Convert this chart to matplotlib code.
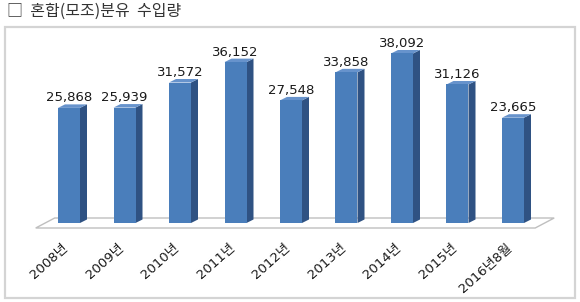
import matplotlib.pyplot as plt
from matplotlib.patches import Polygon, Rectangle

# 혼합(모조)분유 수입량 (톤)
years = ['2008년', '2009년', '2010년', '2011년', '2012년', '2013년', '2014년', '2015년', '2016년8월']
values = [25868, 25939, 31572, 36152, 27548, 33858, 38092, 31126, 23665]

W, H = 580, 302
fig = plt.figure(figsize=(W / 100, H / 100), dpi=100)
fig.patch.set_facecolor('white')

# 픽셀 -> 데이터 환산 (막대 간격 55.5px, 1000톤당 4.45px)
px_x = 55.5
px_y = 4.45 / 1000
x0_px, y0_px = 69, 79  # 첫 막대 중심, 0값 위치 (아래에서)

ax = fig.add_axes([0, 0, 1, 1])
ax.set_xlim(-x0_px / px_x, (W - x0_px) / px_x)
ax.set_ylim(-y0_px / px_y, (H - y0_px) / px_y)
ax.axis('off')

# 깊이(3D) 오프셋
bdx, bdy = 7 / px_x, 3.5 / px_y      # 막대
fdx, fdy = 19 / px_x, 10 / px_y      # 바닥
bw = 22 / px_x

front_c = '#4a7ebb'
side_c = '#2f5283'
top_c = '#6793cc'

# 바닥
n = len(values)
fl, fr = -0.6, n - 1 + 0.4
floor = Polygon([(fl, -fdy / 2), (fr, -fdy / 2), (fr + fdx, fdy / 2), (fl + fdx, fdy / 2)],
                closed=True, facecolor='white', edgecolor='#bfbfbf', lw=1.0, zorder=1)
ax.add_patch(floor)

for i, v in enumerate(values):
    l, r = i - bw / 2, i + bw / 2
    ax.bar(i, v, width=bw, color=front_c, edgecolor='none', zorder=3)
    ax.add_patch(Polygon([(r, 0), (r + bdx, bdy), (r + bdx, v + bdy), (r, v)],
                         closed=True, facecolor=side_c, edgecolor='none', zorder=2))
    ax.add_patch(Polygon([(l, v), (r, v), (r + bdx, v + bdy), (l + bdx, v + bdy)],
                         closed=True, facecolor=top_c, edgecolor='none', zorder=2))
    ax.text(i, v + 6.5 / px_y, f'{v:,}', ha='center', va='baseline',
            fontsize=9.5, family='DejaVu Sans', color='#1a1a1a', zorder=4)
    ax.text(i - 0.05, -23 / px_y, years[i], ha='right', va='center', rotation=42,
            rotation_mode='anchor', fontsize=9.5, family=['DejaVu Sans', 'Noto Sans CJK KR'],
            color='#1a1a1a')

# 외곽 테두리
fig.patches.append(Rectangle((5 / W, 1 - 298 / H), 570 / W, 271 / H, transform=fig.transFigure,
                             fill=False, edgecolor='#d4d4d4', lw=1.6))

fig.text(7 / W, 1 - 11 / H, '□  혼합(모조)분유  수입량', ha='left', va='center', fontsize=11.5,
         family=['Noto Sans CJK KR', 'DejaVu Sans'], color='#333333')

fig.savefig('out.png', dpi=100)
